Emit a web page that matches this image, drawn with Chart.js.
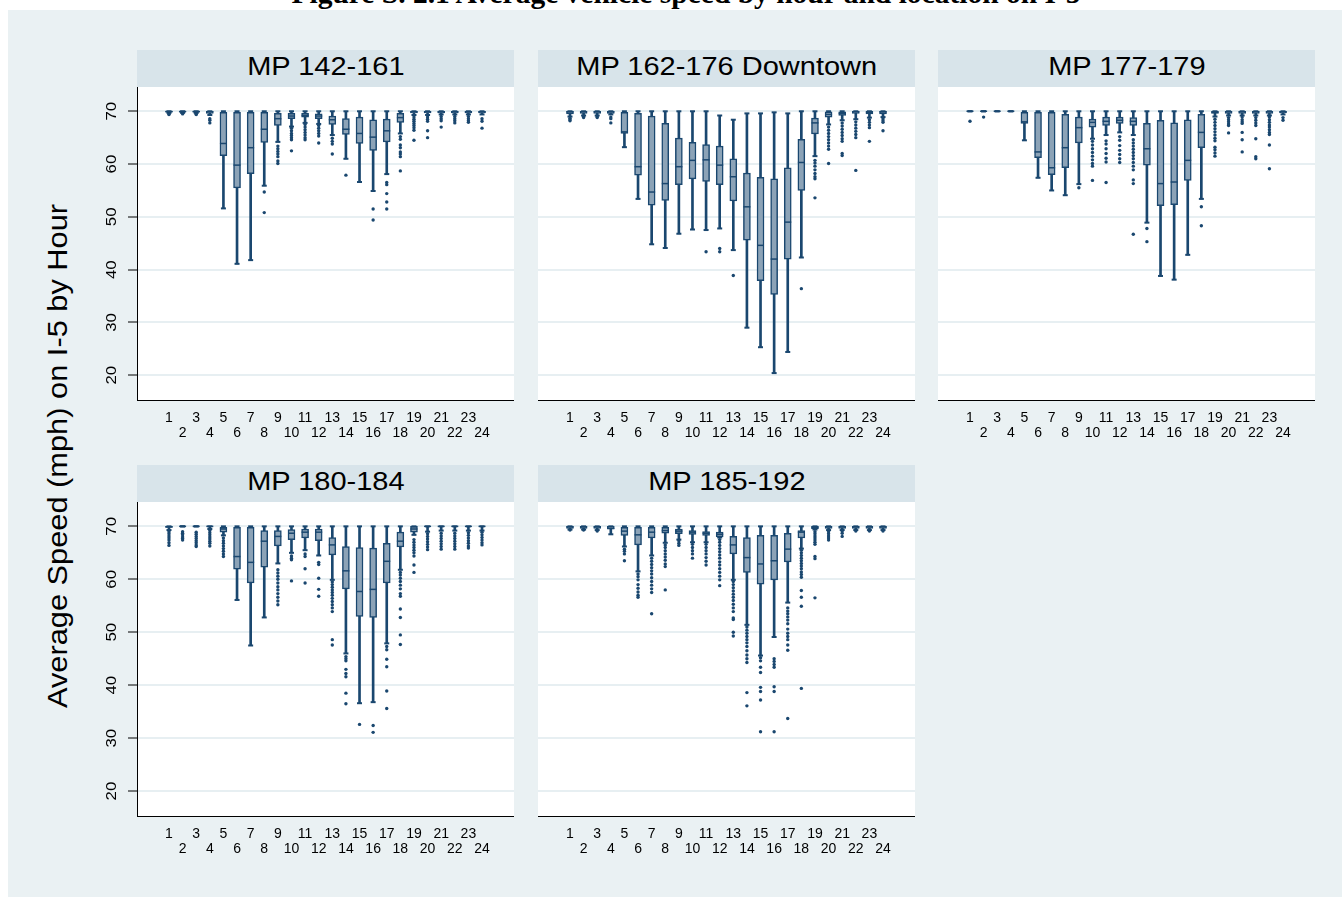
<!DOCTYPE html>
<html>
<head>
<meta charset="utf-8">
<script src="https://cdn.jsdelivr.net/npm/chart.js@4.4.1/dist/chart.umd.min.js"></script>
<style>
  html, body { margin: 0; padding: 0; background: #ffffff; }
  body { width: 1342px; height: 897px; position: relative; overflow: hidden; font-family: "Liberation Sans", Arial, sans-serif; }
  #graph { position: absolute; left: 8px; top: 10px; right: 0; bottom: 0; background: #eaf1f3; }
  .fig-title { position: absolute; left: 0; width: 1372px; top: -21px; text-align: center; font: bold 29.5px "Liberation Serif", "Times New Roman", serif; line-height: 29.5px; white-space: nowrap; color: #000; }
  .strip { position: absolute; height: 37px; background: #d8e4ea; display: flex; align-items: center; justify-content: center; }
  .strip span { display: inline-block; font-size: 25px; color: #000; transform: translateY(-2px) scaleX(1.16); white-space: nowrap; }
  .ytitle { position: absolute; left: 58px; top: 456px; transform: translate(-50%, -50%) rotate(-90deg) scaleX(1.14); font-size: 27px; white-space: nowrap; color: #000; }
  canvas { position: absolute; }
</style>
</head>
<body>
<div id="graph"></div>
<div class="fig-title">Figure S. 2.1 Average vehicle speed by hour and location on I-5</div>
<div class="ytitle">Average Speed (mph) on I-5 by Hour</div>

<script>
// Hours of the day and axis ticks
const hours = [1,2,3,4,5,6,7,8,9,10,11,12,13,14,15,16,17,18,19,20,21,22,23,24];
const yTicks = [20, 30, 40, 50, 60, 70];
const panelTitles = ["MP 142-161", "MP 162-176 Downtown", "MP 177-179", "MP 180-184", "MP 185-192"];

// MP 142-161: whisker low, lower quartile, median, upper quartile, whisker high, outside values
const p1Lo  = [69.7,69.7,69.7,69.3,51.6,41.1,41.8,55.9,64.2,67.1,67.8,67.6,65.5,61.0,56.6,54.9,58.1,65.8,69.3,69.3,69.4,69.4,69.4,69.4];
const p1Q1  = [69.85,69.85,69.85,69.6,61.6,55.5,58.2,64.1,67.3,68.6,68.9,68.6,67.5,65.6,63.9,62.6,64.2,67.9,69.7,69.7,69.7,69.7,69.7,69.7];
const p1Med = [69.95,69.95,69.95,69.9,63.9,59.8,63.1,66.6,68.6,69.1,69.2,69.1,68.4,66.6,65.8,65.1,66.3,68.8,69.9,69.9,69.9,69.9,69.9,69.9];
const p1Q3  = [70,70,70,70,69.8,69.8,69.8,69.8,69.6,69.6,69.6,69.5,69.1,68.6,68.9,68.4,68.5,69.6,70,70,70,70,70,70];
const p1Hi  = [70,70,70,70,70,70,70,70,70,70,70,70,70,70,70,70,70,70,70,70,70,70,70,70];
const p1Out = [
  [69.5,69.4],[69.5],[69.5,69.4],[68.6,68.3,67.8],[],[],[],[54.7,50.8],
  [63.4,62.9,62.4,61.9,61.4,60.6,60.1],[66.8,66.3,65.8,65.4,65.0,64.6,62.5],[67.5,67.0,66.5,66.0,65.5,65.0,64.6],[67.3,66.8,66.3,65.8,65.3,64.0],
  [64.9,64.3,63.8,61.9],[57.9],[],[51.5,49.4],
  [56.5,56.1,54.4,52.8,51.5],[65.2,64.7,63.6,63.1,62.3,61.9,61.4,58.7],[68.9,68.5,68.1,67.7,67.3,66.9,66.4,64.5],[68.9,68.5,68.1,66.3,65.0],
  [69.0,68.6,68.2,67.0],[69.0,68.6,68.2,67.8],[69.0,68.6,68.2,67.9],[68.6,68.1,66.8]
];

// MP 162-176 Downtown
const p2Lo  = [69.0,69.2,69.2,69.4,63.2,53.4,44.8,44.1,46.8,47.6,47.5,47.8,43.7,29.0,25.3,20.4,24.4,42.3,61.5,67.5,68.3,68.5,68.8,68.9];
const p2Q1  = [69.5,69.6,69.6,69.6,65.8,57.9,52.2,53.1,56.1,57.2,56.7,56.1,53.0,45.6,37.9,35.3,42.0,55.0,65.7,68.9,69.2,69.6,69.5,69.5];
const p2Med = [69.9,69.9,69.9,69.9,66.1,59.5,54.7,56.3,59.5,60.7,60.8,59.8,57.6,51.9,44.6,42.0,49.0,60.3,67.8,69.4,69.6,69.9,69.8,69.9];
const p2Q3  = [70,70,70,70,69.8,69.6,69.1,67.7,64.9,64.1,63.7,63.4,61.0,58.3,57.5,57.2,59.3,64.7,68.7,69.9,69.9,70,70,70];
const p2Hi  = [70,70,70,70,70,70,70,70,70,70,70,69.2,68.4,69.6,69.6,69.8,69.6,70,70,70,70,70,70,70];
const p2Out = [
  [68.7,68.4,68.2],[69.0,68.8],[69.0,68.8],[68.9,68.6,67.8],[],[],[],[],
  [],[],[43.4],[44.0,43.4],
  [38.9],[],[],[],
  [],[36.4],[60.7,60.2,59.6,58.9,58.2,57.6,57.2,53.6],[67.0,66.4,65.8,65.2,64.6,64.0,63.4,62.8,60.1],
  [67.8,67.2,66.6,66.0,65.4,64.8,64.3,62.0,61.6],[68.0,67.4,66.8,66.2,65.6,65.0,58.8],[68.4,67.9,67.4,66.9,64.3],[68.6,68.2,67.9,66.3]
];

// MP 177-179
const p3Lo  = [70,70,70,70,64.5,57.4,55.0,54.1,56.2,64.8,65.5,66.0,65.5,48.9,38.8,38.1,42.8,53.4,69.0,69.2,69.2,69.2,69.2,69.4];
const p3Q1  = [70,70,70,70,67.7,61.2,58.0,59.3,64.0,67.0,67.3,67.7,67.3,59.8,52.1,52.3,56.9,63.1,69.6,69.6,69.6,69.6,69.6,69.7];
const p3Med = [70,70,70,70,68.0,62.3,59.3,63.1,66.9,67.9,68.1,68.3,68.1,62.9,56.3,56.6,60.7,66.0,69.8,69.9,69.9,69.9,69.9,69.9];
const p3Q3  = [70,70,70,70,69.8,69.8,69.8,69.4,68.9,68.5,68.9,68.9,68.8,67.7,68.3,67.8,68.4,69.4,70,70,70,70,70,70];
const p3Hi  = [70,70,70,70,70,70,70,70,70,70,70,70,70,70,70,70,70,70,70,70,70,70,70,70];
const p3Out = [
  [68.1],[68.9],[],[],[],[],[],[],
  [55.5],[64.3,63.6,62.9,62.2,61.5,60.8,60.1,59.6,56.9],[64.4,63.8,62.9,62.0,61.1,60.4,56.5],[65.2,64.5,63.5,62.6,61.8,61.0,60.3],
  [64.6,64.0,63.4,62.8,62.2,61.6,61.0,60.3,59.6,58.9,57.0,56.3,46.7],[47.8,45.3],[],[],
  [],[51.9,48.3],[68.5,67.9,67.3,66.7,66.1,65.5,64.9,64.4,63.2,62.7,62.1,61.5],[68.8,68.4,68.0,67.6,67.3,65.9],
  [68.9,68.4,68.0,67.7,66.0,64.6,62.3],[68.8,68.3,67.8,67.3,64.8,61.4,61.0],[68.9,68.4,67.9,67.4,67.0,66.5,66.0,65.6,63.6,59.1],[68.8,68.3]
];

// MP 180-184
const p4Lo  = [69.3,70,70,69.5,68.3,56.1,47.5,52.8,63.0,65.0,65.5,64.5,59.9,46.0,36.6,36.8,47.9,61.8,68.4,69.0,69.2,69.2,69.2,69.2];
const p4Q1  = [69.8,70,70,70,68.9,61.9,59.3,62.3,66.3,67.5,67.8,67.3,64.6,58.2,53.0,52.8,59.3,66.1,68.9,70,70,70,70,70];
const p4Med = [69.9,70,70,70,69.5,64.3,63.2,67.2,68.1,68.7,68.9,68.9,66.5,61.6,57.7,58.1,63.4,67.2,69.5,70,70,70,70,70];
const p4Q3  = [70,70,70,70,69.8,69.8,69.8,69.2,69.2,69.4,69.5,69.5,67.9,66.2,66.0,65.9,66.8,68.9,70,70,70,70,70,70];
const p4Hi  = [70,70,70,70,70,70,70,70,70,70,70,70,70,70,70,70,70,70,70,70,70,70,70,70];
const p4Out = [
  [69.0,68.6,68.2,67.8,67.4,66.9,66.4],[69.0,68.7,68.4,68.0,67.7,67.4],[68.9,68.5,68.1,67.7,67.3,66.9,66.5,66.2],[69.2,68.8,68.4,68.0,67.6,67.2,66.8,66.3],
  [67.8,67.3,66.8,66.3,65.8,65.3,64.8,64.3],[],[],[],
  [61.8,61.2,60.6,60.0,59.3,58.6,58.0,57.3,56.6,55.9,55.2],[64.4,64.0,63.7,59.7],[64.8,64.3,62.0,59.3],[63.2,62.8,60.2,58.1,56.8],
  [59.5,59.0,58.5,58.0,57.5,57.0,56.4,55.8,55.2,54.6,53.9,48.6,47.6],[45.4,45.0,44.6,43.0,42.2,41.6,38.5,36.5],[32.6],[32.4,31.1],
  [47.3,46.7,44.9,43.5,38.9,35.6],[61.3,60.8,60.2,59.6,58.9,58.2,57.3,56.8,54.4,52.8,49.5,47.7],[67.5,67.0,66.5,66.0,65.5,65.0,64.4,62.7,61.3],[68.6,68.1,67.6,67.1,66.6,66.1,65.6],
  [68.7,68.2,67.7,67.2,66.7,66.2,65.7],[68.7,68.2,67.7,67.2,66.7,66.2,65.7],[68.8,68.3,67.8,67.3,66.8,66.3,65.9],[68.9,68.4,67.9,67.4,66.9,66.5]
];

// MP 185-192
const p5Lo  = [69.4,69.4,69.3,68.5,66.2,61.5,64.5,66.9,67.5,67.0,67.0,67.9,59.9,51.4,45.6,49.1,55.6,65.8,69.4,69.3,69.3,69.3,69.3,69.3];
const p5Q1  = [69.6,69.6,69.6,69.5,68.3,66.5,67.8,68.7,68.6,68.5,68.3,68.0,64.8,61.3,59.1,59.9,63.3,67.8,69.5,69.6,69.6,69.6,69.6,69.6];
const p5Med = [69.9,69.9,69.9,69.6,69.1,68.4,68.9,69.2,69.1,68.9,68.7,68.5,66.5,64.1,62.9,63.5,65.7,68.9,69.8,69.9,69.9,69.9,69.9,69.9];
const p5Q3  = [70,70,70,70,69.8,69.8,69.8,69.8,69.5,69.2,69.0,68.9,68.1,67.9,68.3,68.3,68.7,69.2,70,70,70,70,70,70];
const p5Hi  = [70,70,70,70,70,70,70,70,70,70,70,70,70,70,70,70,70,70,70,70,70,70,70,70];
const p5Out = [
  [69.3],[69.3],[69.1],[],[65.7,65.3,64.8,63.5],[61.0,60.5,59.9,59.0,58.3,57.6,57.0,56.6],
  [64.0,63.4,62.8,62.2,61.6,61.0,60.3,59.6,58.9,58.2,57.5,53.5],[66.5,66.0,65.4,64.8,64.2,63.6,62.9,62.4,58.0],
  [67.3,66.8,66.4],[66.6,66.0,65.4,64.8,64.0],[66.6,66.0,65.4,64.8,64.1,63.4,62.7],
  [67.5,67.0,66.4,65.8,65.2,64.6,64.0,63.3,62.7,62.0,61.3,60.6,59.9,58.8],
  [59.6,59.0,58.4,57.8,57.2,56.6,56.0,55.3,54.6,53.9,52.7,52.4,50.0,49.3],
  [51.0,50.4,49.8,49.2,48.6,48.0,47.3,46.5,45.7,45.0,44.3,38.6,36.1],
  [45.2,44.6,43.4,42.4,39.6,38.8,37.2,31.2],[45.0,44.5,43.9,43.4,39.7,38.8,31.2],
  [54.6,54.0,53.5,52.9,52.3,51.6,50.6,49.8,49.2,48.6,47.6,46.6,33.7],
  [65.5,65.0,64.5,64.0,63.5,63.0,62.5,62.0,61.4,60.9,60.4,57.9,56.6,54.9,39.4],
  [69.0,68.6,68.2,67.8,67.4,67.0,66.6,64.3,63.9,56.5],[69.0,68.6,68.2,67.8,67.4],[69.1,68.7,68.1],[69.1],[69.1],[69.1]
];

const NAVY = '#1a476f';
const BOXFILL = '#8ca3b7';
const FONT = '"Liberation Sans", Arial, sans-serif';

Chart.defaults.font.family = FONT;
Chart.defaults.color = '#000';

// white plot region behind the marks
const plotBackground = {
  id: 'plotBackground',
  beforeDraw(chart) {
    const { ctx, chartArea: a } = chart;
    ctx.save();
    ctx.fillStyle = '#ffffff';
    ctx.fillRect(a.left, a.top, a.right - a.left, a.bottom - a.top);
    ctx.restore();
  }
};

// vertical tick labels on the left-hand axis
const verticalYLabels = {
  id: 'verticalYLabels',
  afterDraw(chart, args, opts) {
    if (!opts.show) return;
    const { ctx, chartArea: a, scales } = chart;
    ctx.save();
    ctx.fillStyle = '#000';
    ctx.font = '15px ' + FONT;
    ctx.textAlign = 'center';
    ctx.textBaseline = 'middle';
    yTicks.forEach(v => {
      const y = scales.y.getPixelForValue(v);
      ctx.save();
      ctx.translate(a.left - 25, y);
      ctx.rotate(-Math.PI / 2);
      ctx.scale(1.12, 1);
      ctx.fillText(String(v), 0, 0);
      ctx.restore();
    });
    ctx.restore();
  }
};

function addPanel(title, lo, q1, med, q3, hi, out, pos) {
  const strip = document.createElement('div');
  strip.className = 'strip';
  strip.style.left = pos.plotLeft + 'px';
  strip.style.top = pos.stripTop + 'px';
  strip.style.width = pos.plotWidth + 'px';
  strip.innerHTML = '<span></span>';
  strip.firstChild.textContent = title;
  document.body.appendChild(strip);

  const canvas = document.createElement('canvas');
  canvas.width = pos.canvasWidth;
  canvas.height = pos.canvasHeight;
  canvas.style.left = pos.canvasLeft + 'px';
  canvas.style.top = pos.canvasTop + 'px';
  document.body.appendChild(canvas);

  const whiskers = hours.map((h, i) => ({ x: h, y: [lo[i], hi[i]] }));
  const boxes = hours.map((h, i) => ({ x: h, y: [q1[i], q3[i]] }));
  const medians = hours.map((h, i) => ({ x: h, y: med[i] }));
  const caps = hours.flatMap((h, i) => [{ x: h, y: lo[i] }, { x: h, y: hi[i] }]);
  const outside = hours.flatMap((h, i) => out[i].map(v => ({ x: h, y: v })));

  new Chart(canvas, {
    type: 'bar',
    data: {
      datasets: [
        { type: 'bar', data: whiskers, order: 5, grouped: false, barThickness: 2, backgroundColor: NAVY, borderWidth: 0 },
        { type: 'bar', data: boxes, order: 4, grouped: false, barThickness: 7, backgroundColor: BOXFILL, borderColor: NAVY, borderWidth: 1.5, borderSkipped: false },
        { type: 'scatter', data: caps, order: 3, pointStyle: 'line', radius: 2.5, borderWidth: 2, borderColor: NAVY },
        { type: 'scatter', data: medians, order: 2, pointStyle: 'line', radius: 3.5, borderWidth: 1.5, borderColor: NAVY },
        { type: 'scatter', data: outside, order: 1, pointStyle: 'circle', radius: 1.7, borderWidth: 0, backgroundColor: NAVY }
      ]
    },
    options: {
      responsive: false,
      devicePixelRatio: 1,
      animation: false,
      events: [],
      layout: { padding: 0, autoPadding: false },
      plugins: {
        legend: { display: false },
        tooltip: { enabled: false },
        title: { display: false },
        verticalYLabels: { show: pos.leftAxis }
      },
      scales: {
        x: {
          type: 'linear',
          offset: false,
          min: -1.35,
          max: 26.35,
          afterBuildTicks: s => { s.ticks = hours.map(v => ({ value: v })); },
          afterFit: s => { s.height = pos.xAxisHeight; },
          grid: { display: false, drawTicks: false },
          border: { display: true, color: '#000', width: 1 },
          ticks: {
            autoSkip: false, maxRotation: 0, minRotation: 0, padding: 11,
            font: { size: 14, lineHeight: '15px' }, color: '#000',
            callback: v => (v % 2 === 1 ? [String(v)] : ['', String(v)])
          }
        },
        y: {
          type: 'linear',
          min: 15.3,
          max: 74.6,
          afterBuildTicks: s => { s.ticks = yTicks.map(v => ({ value: v })); },
          afterFit: s => { s.width = pos.leftAxis ? 42 : 0; },
          grid: { color: '#e7eff2', lineWidth: 2, drawTicks: pos.leftAxis, tickLength: 9, tickColor: '#000', tickWidth: 1 },
          border: { display: pos.leftAxis, color: '#000', width: 1 },
          ticks: { display: false }
        }
      }
    },
    plugins: [plotBackground, verticalYLabels]
  });
}

// panel grid: three columns, two rows
const colPlotLeft = [137, 538, 938];
const rowStripTop = [50, 465];
const rowPlotTop = [87, 502];
const rowPlotHeight = [313, 314];

function panelPos(col, row) {
  const left = col === 0;
  return {
    plotLeft: colPlotLeft[col],
    plotWidth: 377,
    stripTop: rowStripTop[row],
    canvasLeft: left ? colPlotLeft[col] - 42 : colPlotLeft[col],
    canvasTop: rowPlotTop[row],
    canvasWidth: left ? 419 : 377,
    canvasHeight: 360,
    xAxisHeight: 360 - rowPlotHeight[row],
    leftAxis: left
  };
}

addPanel(panelTitles[0], p1Lo, p1Q1, p1Med, p1Q3, p1Hi, p1Out, panelPos(0, 0));
addPanel(panelTitles[1], p2Lo, p2Q1, p2Med, p2Q3, p2Hi, p2Out, panelPos(1, 0));
addPanel(panelTitles[2], p3Lo, p3Q1, p3Med, p3Q3, p3Hi, p3Out, panelPos(2, 0));
addPanel(panelTitles[3], p4Lo, p4Q1, p4Med, p4Q3, p4Hi, p4Out, panelPos(0, 1));
addPanel(panelTitles[4], p5Lo, p5Q1, p5Med, p5Q3, p5Hi, p5Out, panelPos(1, 1));
</script>
</body>
</html>
